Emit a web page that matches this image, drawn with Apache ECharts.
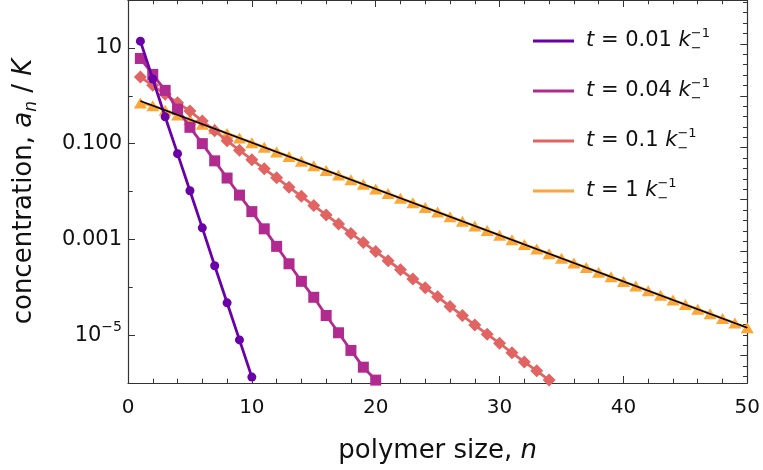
<!DOCTYPE html>
<html>
<head>
<meta charset="utf-8">
<script src="https://cdn.jsdelivr.net/npm/echarts@6/dist/echarts.min.js"></script>
<style>
  html, body { margin: 0; padding: 0; background: #fff; }
  #chart { width: 763px; height: 470px; }
</style>
</head>
<body>
<div id="chart"></div>
<script>
// Size distributions a_n / K of polymers at four times t (in units of 1/k_-)

const timeLabels = ['0.01', '0.04', '0.1', '1'];

const nT001 = [1, 2, 3, 4, 5, 6, 7, 8, 9, 10];
const aT001 = [13.8, 2.24, 0.363, 0.0617, 0.01035, 1.74e-3, 2.82e-4, 4.73e-5, 7.94e-6, 1.33e-6];

const nT004 = [1, 2, 3, 4, 5, 6, 7, 8, 9, 10, 11, 12, 13, 14, 15, 16, 17, 18, 19, 20];
const aT004 = [6.01, 2.79, 1.296, 0.525, 0.219, 0.1, 0.0437, 0.0191, 8.41e-3, 3.80e-3,
               1.66e-3, 7.14e-4, 3.09e-4, 1.33e-4, 6.17e-5, 2.57e-5, 1.12e-5, 4.79e-6, 2.14e-6, 1.15e-6];

const nT01 = [1, 2, 3, 4, 5, 6, 7, 8, 9, 10, 11, 12, 13, 14, 15, 16, 17,
              18, 19, 20, 21, 22, 23, 24, 25, 26, 27, 28, 29, 30, 31, 32, 33, 34];
const aT01 = [2.455, 1.648, 1.072, 0.7145, 0.4786, 0.2972, 0.1862, 0.1148, 0.07244, 0.04624,
              0.02985, 0.01928, 0.0123, 7.94e-3, 5.07e-3, 3.24e-3, 2.09e-3, 1.334e-3, 8.61e-4, 5.56e-4,
              3.59e-4, 2.32e-4, 1.496e-4, 9.77e-5, 6.31e-5, 3.98e-5, 2.57e-5, 1.62e-5, 1.047e-5, 6.76e-6,
              4.27e-6, 2.75e-6, 1.80e-6, 1.15e-6];

const nT1 = [1, 2, 3, 4, 5, 6, 7, 8, 9, 10, 11, 12, 13, 14, 15, 16, 17, 18, 19, 20, 21, 22, 23, 24, 25,
             26, 27, 28, 29, 30, 31, 32, 33, 34, 35, 36, 37, 38, 39, 40, 41, 42, 43, 44, 45, 46, 47, 48, 49, 50];
const aT1 = [0.708, 0.621, 0.497, 0.398, 0.3187, 0.2551, 0.2042, 0.1634, 0.1308, 0.1047,
             0.0838, 0.0671, 0.0537, 0.043, 0.0344, 0.02756, 0.02206, 0.01766, 0.01414, 0.01131,
             9.06e-3, 7.25e-3, 5.80e-3, 4.65e-3, 3.72e-3, 2.98e-3, 2.38e-3, 1.908e-3, 1.527e-3, 1.222e-3,
             9.78e-4, 7.83e-4, 6.27e-4, 5.02e-4, 4.02e-4, 3.21e-4, 2.57e-4, 2.06e-4, 1.65e-4, 1.32e-4,
             1.057e-4, 8.46e-5, 6.77e-5, 5.42e-5, 4.34e-5, 3.47e-5, 2.78e-5, 2.23e-5, 1.781e-5, 1.426e-5];

// exponential fit through the t = 1 distribution
const nFit = [1, 50];
const aFit = [0.776, 1.426e-5];

// axis ranges and ticks
const xRange = [0, 50];
const yRange = [1e-6, 100];
const yLabelExponents = [1, -1, -3, -5];
const yLabelTexts = ['10', '0.100', '0.001', '10{sup|\u22125}'];
// frame ticks on the right follow a natural-log scale
const lnMajorTicks = [-12.5, -10, -7.5, -5, -2.5, 0, 2.5];
const lnMinorTicks = [-13.5, -13, -12, -11.5, -11, -10.5, -9.5, -9, -8.5, -8, -7, -6.5, -6, -5.5,
                      -4.5, -4, -3.5, -3, -2, -1.5, -1, -0.5, 0.5, 1, 1.5, 2, 3, 3.5, 4, 4.5];

const colors = ['#6a00a8', '#b12a90', '#e16462', '#fca636'];
const FONT = 'DejaVu Sans';
const AX = '#333';
const TXT = '#111';

function pairs(xs, ys) { return xs.map((x, i) => [x, ys[i]]); }

const chart = echarts.init(document.getElementById('chart'), null, { renderer: 'canvas' });

const baseSeries = { type: 'line', xAxisIndex: 0, yAxisIndex: 0, showSymbol: true, clip: true,
  emphasis: { disabled: true }, silent: true, animation: false };

const series = [
  Object.assign({}, baseSeries, { name: timeLabels[3], data: pairs(nT1, aT1), z: 2,
    symbol: 'triangle', symbolSize: [13, 11],
    lineStyle: { color: colors[3], width: 2.8 }, itemStyle: { color: colors[3] } }),
  Object.assign({}, baseSeries, { name: timeLabels[2], data: pairs(nT01, aT01), z: 3,
    symbol: 'diamond', symbolSize: 13,
    lineStyle: { color: colors[2], width: 2.8 }, itemStyle: { color: colors[2] } }),
  Object.assign({}, baseSeries, { name: timeLabels[1], data: pairs(nT004, aT004), z: 4,
    symbol: 'rect', symbolSize: 11,
    lineStyle: { color: colors[1], width: 2.8 }, itemStyle: { color: colors[1] } }),
  Object.assign({}, baseSeries, { name: timeLabels[0], data: pairs(nT001, aT001), z: 5,
    symbol: 'circle', symbolSize: 9,
    lineStyle: { color: colors[0], width: 2.8 }, itemStyle: { color: colors[0] } }),
  Object.assign({}, baseSeries, { name: 'fit', data: pairs(nFit, aFit), z: 6,
    showSymbol: false, symbol: 'none',
    lineStyle: { color: '#000', width: 1.8 } })
];

const xCommon = {
  type: 'value', min: xRange[0], max: xRange[1], interval: 10,
  axisLine: { show: true, onZero: false, lineStyle: { color: AX, width: 1.2 } },
  axisTick: { show: true, inside: true, length: 7, lineStyle: { color: AX, width: 1 } },
  minorTick: { show: true, splitNumber: 5, length: 4.3, lineStyle: { color: AX, width: 1 } },
  splitLine: { show: false }
};

const yLabelMap = {};
yLabelExponents.forEach((e, i) => { yLabelMap[e] = yLabelTexts[i]; });

const option = {
  animation: false,
  backgroundColor: '#fff',
  grid: { left: 127, right: 15, top: 0, bottom: 87, containLabel: false },
  legend: {
    data: [timeLabels[0], timeLabels[1], timeLabels[2], timeLabels[3]],
    orient: 'vertical', left: 533, top: 27, padding: 0, itemGap: 22,
    icon: 'rect', itemWidth: 41, itemHeight: 3.2, selectedMode: false,
    formatter: name => '{it0|t} = ' + name + ' {it|k}{sub|\u2212}{sup|\u22121}',
    textStyle: {
      fontFamily: FONT, fontSize: 21, color: TXT, lineHeight: 28,
      rich: {
        it0: { fontFamily: FONT, fontSize: 21, fontStyle: 'italic', color: TXT, padding: [0, 0, 0, 7] },
        it: { fontFamily: FONT, fontSize: 21, fontStyle: 'italic', color: TXT },
        sub: { fontFamily: FONT, fontSize: 13, color: TXT, verticalAlign: 'bottom', lineHeight: 12, width: 0.01 },
        sup: { fontFamily: FONT, fontSize: 13, color: TXT, verticalAlign: 'top', lineHeight: 14 }
      }
    }
  },
  xAxis: [
    Object.assign({}, xCommon, {
      position: 'bottom',
      axisLabel: { show: true, margin: 15, fontFamily: FONT, fontSize: 20, color: TXT },
      name: 'polymer size, {it|n}', nameLocation: 'middle', nameGap: 55,
      nameTextStyle: { fontFamily: FONT, fontSize: 26, color: TXT,
        rich: { it: { fontFamily: FONT, fontSize: 26, fontStyle: 'italic', color: TXT } } }
    }),
    Object.assign({}, xCommon, { position: 'top', axisLabel: { show: false } })
  ],
  yAxis: [
    {
      type: 'log', logBase: 10, min: yRange[0], max: yRange[1], position: 'left',
      axisLine: { show: true, onZero: false, lineStyle: { color: AX, width: 1.2 } },
      axisTick: { show: true, inside: true, length: 4.7, lineStyle: { color: AX, width: 1 } },
      minorTick: { show: false },
      splitLine: { show: false },
      axisLabel: {
        show: true, margin: 6, fontFamily: FONT, fontSize: 21, color: TXT, lineHeight: 30,
        formatter: v => {
          const e = Math.round(Math.log10(v));
          return yLabelMap[e] !== undefined ? yLabelMap[e] : '';
        },
        rich: { sup: { fontFamily: FONT, fontSize: 14, color: TXT, verticalAlign: 'top', lineHeight: 14 } }
      },
      name: 'concentration, {it|a}{sub|n} / {it|K}', nameLocation: 'middle', nameGap: 88,
      nameTextStyle: { fontFamily: FONT, fontSize: 26, color: TXT, lineHeight: 32,
        rich: {
          it: { fontFamily: FONT, fontSize: 26, fontStyle: 'italic', color: TXT },
          sub: { fontFamily: FONT, fontSize: 17, fontStyle: 'italic', color: TXT, verticalAlign: 'bottom', lineHeight: 20 }
        } }
    },
    {
      // longer ticks at the labelled decades (log10 units)
      type: 'value', min: Math.log10(yRange[0]), max: Math.log10(yRange[1]), position: 'left',
      axisLine: { show: false, onZero: false },
      axisTick: { show: true, inside: true, length: 7, customValues: yLabelExponents, lineStyle: { color: AX, width: 1 } },
      axisLabel: { show: false }, splitLine: { show: false }
    },
    {
      type: 'value', min: Math.log(yRange[0]), max: Math.log(yRange[1]), position: 'right',
      axisLine: { show: true, onZero: false, lineStyle: { color: AX, width: 1.2 } },
      axisTick: { show: true, inside: true, length: 7, customValues: lnMajorTicks, lineStyle: { color: AX, width: 1 } },
      axisLabel: { show: false }, splitLine: { show: false }
    },
    {
      type: 'value', min: Math.log(yRange[0]), max: Math.log(yRange[1]), position: 'right',
      axisLine: { show: false, onZero: false },
      axisTick: { show: true, inside: true, length: 4.3, customValues: lnMinorTicks, lineStyle: { color: AX, width: 1 } },
      axisLabel: { show: false }, splitLine: { show: false }
    }
  ],
  series: series
};

chart.setOption(option);
</script>
</body>
</html>
